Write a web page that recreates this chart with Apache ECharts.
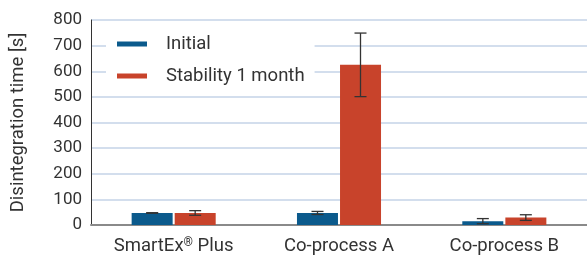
<!DOCTYPE html>
<html>
<head>
<meta charset="utf-8">
<script src="https://cdn.jsdelivr.net/npm/echarts@6/dist/echarts.min.js"></script>
<style>
  html, body { margin: 0; padding: 0; background: #fff; }
  #chart { width: 587px; height: 259px; }
</style>
</head>
<body>
<div id="chart"></div>
<script>
const categories = ['SmartEx® Plus', 'Co-process A', 'Co-process B']
const initial = [47, 47, 15]
const initialErr = [1, 6, 10]
const stability = [47, 625, 29]
const stabilityErr = [9, 124, 11]
const yTicks = [0, 100, 200, 300, 400, 500, 600, 700, 800]

const FONT = 'Roboto, sans-serif'
const BAR_W = 41
const SHIFT = 21.5

function errorSeries(name, values, errs, dir) {
  return {
    type: 'custom',
    name: name + ' err',
    z: 10,
    data: values.map((v, i) => [i, v - errs[i], v + errs[i]]),
    renderItem: function (params, api) {
      const lo = api.coord([api.value(0), api.value(1)])
      const hi = api.coord([api.value(0), api.value(2)])
      const x = lo[0] + dir * SHIFT
      const cap = 6
      const style = { stroke: '#333', lineWidth: 1.3 }
      return {
        type: 'group',
        children: [
          { type: 'line', shape: { x1: x, y1: hi[1], x2: x, y2: lo[1] }, style: style },
          { type: 'line', shape: { x1: x - cap, y1: hi[1], x2: x + cap, y2: hi[1] }, style: style },
          { type: 'line', shape: { x1: x - cap, y1: lo[1], x2: x + cap, y2: lo[1] }, style: style }
        ]
      }
    }
  }
}

const chart = echarts.init(document.getElementById('chart'))
chart.setOption({
  animation: false,
  grid: { left: 91, right: -8, top: 20, bottom: 34 },
  legend: {
    data: ['Initial', 'Stability 1 month'],
    orient: 'vertical',
    left: 106,
    top: 30,
    backgroundColor: '#fff',
    padding: [4, 10, 4, 11],
    icon: 'rect',
    itemWidth: 30,
    itemHeight: 5,
    itemGap: 12,
    textStyle: { fontFamily: FONT, fontSize: 18.5, color: '#333', padding: [0, 0, 0, 14], lineHeight: 20 }
  },
  xAxis: {
    type: 'category',
    data: categories,
    axisLine: { lineStyle: { color: '#8a8a8a', width: 2 } },
    axisTick: { show: false },
    axisLabel: {
      interval: 0,
      fontFamily: FONT,
      fontSize: 18.5,
      color: '#333',
      margin: 12,
      formatter: function (v) {
        return v.indexOf('®') >= 0 ? v.replace('®', '{sup|®}') : v
      },
      rich: {
        sup: { fontFamily: FONT, fontSize: 12, color: '#333', verticalAlign: 'top', padding: [0, 0, 6, 0] }
      }
    }
  },
  yAxis: {
    type: 'value',
    min: yTicks[0],
    max: yTicks[yTicks.length - 1],
    interval: 100,
    name: 'Disintegration time [s]',
    nameLocation: 'middle',
    nameGap: 63,
    nameTextStyle: { fontFamily: FONT, fontSize: 18.5, color: '#333' },
    axisLine: { show: true, lineStyle: { color: '#333', width: 1 } },
    axisTick: { show: false },
    axisLabel: { fontFamily: FONT, fontSize: 17, color: '#333', margin: 9 },
    splitLine: { lineStyle: { color: '#c5d3e7', width: 1.5 } }
  },
  series: [
    {
      name: 'Initial',
      type: 'bar',
      data: initial,
      barWidth: BAR_W,
      barGap: '5%',
      itemStyle: { color: '#0b5a8c' }
    },
    {
      name: 'Stability 1 month',
      type: 'bar',
      data: stability,
      barWidth: BAR_W,
      barGap: '5%',
      itemStyle: { color: '#c8432b' }
    },
    errorSeries('Initial', initial, initialErr, -1),
    errorSeries('Stability 1 month', stability, stabilityErr, 1)
  ]
})
</script>
</body>
</html>
